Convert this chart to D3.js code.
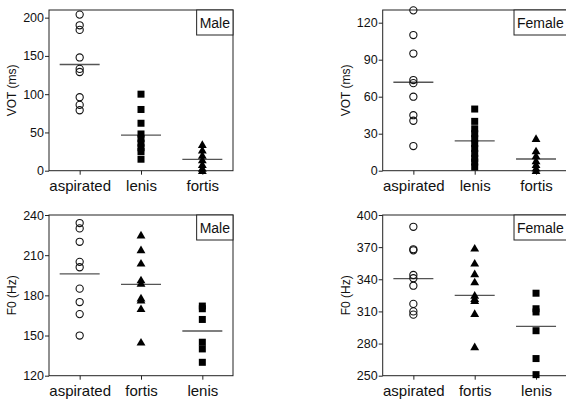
<!DOCTYPE html>
<html>
<head>
<meta charset="utf-8">
<script src="https://cdn.jsdelivr.net/npm/d3@7"></script>
<style>
  body { margin: 0; background: #fff; }
  svg { display: block; font-family: "Liberation Sans", Arial, sans-serif; }
</style>
</head>
<body>
<div id="chart"></div>
<script>
// categories (order differs between the VOT and F0 rows)
const votCategories = ["aspirated", "lenis", "fortis"];
const f0Categories = ["aspirated", "fortis", "lenis"];

// VOT (ms), male
const maleVotAspirated = [204, 190, 184, 148, 133, 129, 96, 86, 79];
const maleVotLenis = [100, 80, 62, 48, 42, 36, 30, 25, 15];
const maleVotFortis = [34, 27, 20, 14, 8, 3, 0];
const maleVotMeans = [138.7, 46.5, 14.8];
const maleVotTicks = [0, 50, 100, 150, 200];

// VOT (ms), female
const femaleVotAspirated = [130, 110, 95, 73.5, 71, 60, 45, 40.5, 20];
const femaleVotLenis = [50, 40, 34, 30, 26, 22, 18, 14, 10, 7, 3];
const femaleVotFortis = [26, 16, 12, 8, 5, 2, 0];
const femaleVotMeans = [71.7, 24.2, 9.5];
const femaleVotTicks = [0, 30, 60, 90, 120];

// F0 (Hz), male
const maleF0Aspirated = [234, 230, 220, 205, 201, 185, 175, 166, 150];
const maleF0Fortis = [225, 214, 204, 191.5, 189, 178, 176.5, 170, 145];
const maleF0Lenis = [172, 170, 162, 145, 140, 130];
const maleF0Means = [196, 188.2, 153.4];
const maleF0Ticks = [120, 150, 180, 210, 240];

// F0 (Hz), female
const femaleF0Aspirated = [389, 368, 367, 344, 341, 334, 317, 310, 307];
const femaleF0Fortis = [369, 355, 345, 337.5, 325, 322, 320, 308, 277];
const femaleF0Lenis = [327, 312.5, 309.5, 292, 266, 251];
const femaleF0Means = [340.6, 325, 296];
const femaleF0Ticks = [250, 280, 310, 340, 370, 400];

const shapeOf = { aspirated: "circle", lenis: "square", fortis: "triangle" };

class DotPanel {
    constructor(svg, opts) {
        this.svg = svg;
        Object.assign(this, opts);
        this.init();
    }

    init() {
        this.g = this.svg.append("g")
            .attr("transform", `translate(${this.x}, ${this.y})`);

        this.xScale = d3.scalePoint()
            .domain(this.categories)
            .range([0, this.width])
            .padding(0.5);

        this.yScale = d3.scaleLinear()
            .domain(this.yDomain)
            .range([this.height, 0]);

        this.render();
    }

    render() {
        const g = this.g;

        // frame
        g.append("rect")
            .attr("width", this.width)
            .attr("height", this.height)
            .attr("fill", "none")
            .attr("stroke", "#222")
            .attr("stroke-width", 1);

        const yAxis = g.append("g")
            .call(d3.axisLeft(this.yScale).tickValues(this.ticks).tickSize(4).tickPadding(1));
        yAxis.select(".domain").remove();
        yAxis.selectAll("line").attr("stroke", "#222");
        yAxis.selectAll("text").attr("font-size", 12.5).attr("fill", "#111")
            .attr("font-family", "'Liberation Sans', Arial, sans-serif");

        const xAxis = g.append("g")
            .attr("transform", `translate(0, ${this.height})`)
            .call(d3.axisBottom(this.xScale).tickSize(4).tickPadding(5.6));
        xAxis.select(".domain").remove();
        xAxis.selectAll("line").attr("stroke", "#222");
        xAxis.selectAll("text").attr("font-size", 15).attr("fill", "#111")
            .attr("font-family", "'Liberation Sans', Arial, sans-serif");

        g.append("text")
            .attr("transform", `translate(-37, ${this.height / 2}) rotate(-90)`)
            .attr("text-anchor", "middle")
            .attr("dy", "0.35em")
            .attr("font-size", 12)
            .attr("fill", "#111")
            .text(this.yLabel);

        // mean lines
        g.selectAll(".mean")
            .data(this.categories)
            .enter()
                .append("line")
                .attr("x1", d => this.xScale(d) - 20)
                .attr("x2", d => this.xScale(d) + 20)
                .attr("y1", (d, i) => this.yScale(this.means[i]))
                .attr("y2", (d, i) => this.yScale(this.means[i]))
                .attr("stroke", "#555")
                .attr("stroke-width", 1.4);

        // points
        const points = this.categories.flatMap((c, i) =>
            this.series[i].map(v => ({ cat: c, value: v })));

        const triangle = d3.symbol().type(d3.symbolTriangle).size(34);

        points.forEach(p => {
            const cx = this.xScale(p.cat);
            const cy = this.yScale(p.value);
            const shape = shapeOf[p.cat];
            if (shape === "circle") {
                g.append("circle")
                    .attr("cx", cx).attr("cy", cy).attr("r", 3.6)
                    .attr("fill", "none")
                    .attr("stroke", "#111").attr("stroke-width", 1.1);
            } else if (shape === "square") {
                g.append("rect")
                    .attr("x", cx - 3.5).attr("y", cy - 3.5)
                    .attr("width", 7).attr("height", 7)
                    .attr("fill", "#000");
            } else {
                g.append("path")
                    .attr("d", triangle())
                    .attr("transform", `translate(${cx}, ${cy + 0.8})`)
                    .attr("fill", "#000");
            }
        });

        // legend box
        const lg = g.append("g");
        const txt = lg.append("text")
            .attr("font-size", 14)
            .attr("fill", "#111")
            .text(this.legend);
        const tw = txt.node().getComputedTextLength();
        const bw = tw + 6;
        lg.insert("rect", "text")
            .attr("x", this.width - bw)
            .attr("y", 0)
            .attr("width", bw)
            .attr("height", 25)
            .attr("fill", "#fff")
            .attr("stroke", "#222");
        txt.attr("x", this.width - bw + 3).attr("y", 18.3);
    }
}

const svg = d3.select("#chart").append("svg")
    .attr("width", 566)
    .attr("height", 400);

const W = 184, H = 160.7;

new DotPanel(svg, {
    x: 49, y: 10, width: W, height: H,
    categories: votCategories,
    series: [maleVotAspirated, maleVotLenis, maleVotFortis],
    means: maleVotMeans,
    yDomain: [0, 210], ticks: maleVotTicks,
    yLabel: "VOT (ms)", legend: "Male"
});

new DotPanel(svg, {
    x: 382.7, y: 10, width: W, height: H,
    categories: votCategories,
    series: [femaleVotAspirated, femaleVotLenis, femaleVotFortis],
    means: femaleVotMeans,
    yDomain: [0, 130.3], ticks: femaleVotTicks,
    yLabel: "VOT (ms)", legend: "Female"
});

new DotPanel(svg, {
    x: 49, y: 215, width: W, height: H,
    categories: f0Categories,
    series: [maleF0Aspirated, maleF0Fortis, maleF0Lenis],
    means: maleF0Means,
    yDomain: [120, 240], ticks: maleF0Ticks,
    yLabel: "F0 (Hz)", legend: "Male"
});

new DotPanel(svg, {
    x: 382.7, y: 215, width: W, height: H,
    categories: f0Categories,
    series: [femaleF0Aspirated, femaleF0Fortis, femaleF0Lenis],
    means: femaleF0Means,
    yDomain: [250, 400], ticks: femaleF0Ticks,
    yLabel: "F0 (Hz)", legend: "Female"
});
</script>
</body>
</html>
